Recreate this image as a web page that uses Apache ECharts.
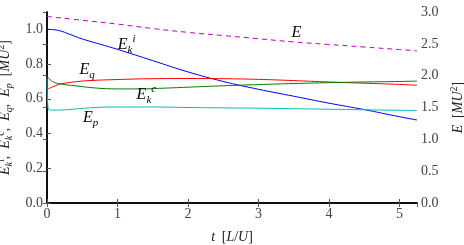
<!DOCTYPE html>
<html><head><meta charset="utf-8">
<script src="https://cdn.jsdelivr.net/npm/echarts@6/dist/echarts.min.js"></script>
<style>html,body{margin:0;padding:0;background:#fff}#c{width:464px;height:245px}</style>
</head><body><div id="c"></div>
<script>
// Time samples (t [L/U]) and series values
var tE   = [0, 0.5, 1, 1.5, 2, 2.5, 3, 3.5, 4, 4.5, 5, 5.25];
var E    = [2.93, 2.87, 2.81, 2.74, 2.68, 2.63, 2.58, 2.53, 2.49, 2.45, 2.41, 2.39];

var tEki = [0, 0.1, 0.2, 0.3, 0.5, 0.75, 1, 1.5, 2, 2.5, 3, 3.5, 4, 4.5, 5, 5.25];
var Eki  = [1.0, 0.998, 0.99, 0.975, 0.945, 0.915, 0.885, 0.82, 0.755, 0.70, 0.655, 0.615, 0.575, 0.538, 0.497, 0.478];

var tEq  = [0, 0.1, 0.2, 0.4, 0.6, 1, 1.5, 2, 2.5, 3, 3.5, 4, 4.5, 5, 5.25];
var Eq   = [0.655, 0.672, 0.686, 0.698, 0.705, 0.711, 0.716, 0.717, 0.716, 0.712, 0.705, 0.697, 0.69, 0.683, 0.678];

var tEkc = [0, 0.03, 0.1, 0.2, 0.4, 0.7, 1, 1.3, 1.7, 2, 2.5, 3, 3.5, 4, 4.5, 5, 5.25];
var Ekc  = [0.73, 0.715, 0.695, 0.685, 0.675, 0.662, 0.657, 0.657, 0.662, 0.667, 0.675, 0.682, 0.688, 0.693, 0.697, 0.70, 0.702];

var tEp  = [0, 0.02, 0.1, 0.3, 0.6, 1, 1.5, 2, 2.5, 3, 3.5, 4, 4.5, 5, 5.25];
var Ep   = [0.72, 0.54, 0.535, 0.538, 0.548, 0.553, 0.553, 0.55, 0.548, 0.546, 0.543, 0.54, 0.537, 0.534, 0.533];

var xTicks = [0, 1, 2, 3, 4, 5];
var leftTicks = ['0.0','0.2','0.4','0.6','0.8','1.0'];
var rightTicks = ['0.0','0.5','1.0','1.5','2.0','2.5','3.0'];

function pairs(t, v){ return t.map(function(x,i){ return [x, v[i]]; }); }

var serif = 'Liberation Serif';
var rich = {
  b: {fontFamily: serif, fontStyle: 'italic', fontSize: 16, color: '#000', lineHeight: 22, verticalAlign: 'middle'},
  sub: {fontFamily: serif, fontStyle: 'italic', fontSize: 11, color: '#000', lineHeight: 22, verticalAlign: 'bottom'},
  sup: {fontFamily: serif, fontStyle: 'italic', fontSize: 11, color: '#000', lineHeight: 22, verticalAlign: 'top'},
  n: {fontFamily: serif, fontSize: 14, color: '#222', lineHeight: 18},
  ni: {fontFamily: serif, fontStyle: 'italic', fontSize: 14, color: '#222', lineHeight: 18},
  ns: {fontFamily: serif, fontStyle: 'italic', fontSize: 10, color: '#222', lineHeight: 18, verticalAlign: 'bottom'},
  nu: {fontFamily: serif, fontSize: 10, color: '#222', lineHeight: 18, verticalAlign: 'top'},
  nx: {fontFamily: serif, fontSize: 14, color: '#222', lineHeight: 18},
  nxi: {fontFamily: serif, fontStyle: 'italic', fontSize: 14, color: '#222', lineHeight: 18}
};

function mp(text, x, y){
  return {symbol: 'circle', symbolSize: 1, silent: true, animation: false,
    itemStyle: {color: 'rgba(0,0,0,0)'},
    label: {show: true, position: 'inside', formatter: text, rich: rich, color: '#000'},
    data: [{name: 'lbl', coord: [x, y], value: 0}]};
}

var tickStyle = {show: true, inside: true, length: 4, lineStyle: {color: '#555', width: 1}};

var chart = echarts.init(document.getElementById('c'));
chart.setOption({
  animation: false,
  backgroundColor: '#fff',
  grid: {left: 47, right: 47, top: 12, bottom: 42, containLabel: false, outerBoundsMode: 'none'},
  xAxis: [{
    type: 'value', min: 0, max: 5.25, interval: 1, position: 'bottom',
    axisLine: {show: true, lineStyle: {color: '#000', width: 1.5}},
    axisTick: tickStyle, splitLine: {show: false},
    axisLabel: {show: true, showMaxLabel: false, margin: 4, color: '#444', fontFamily: serif, fontSize: 14,
      formatter: function(v){ return xTicks.indexOf(v) >= 0 ? String(v) : ''; }},
    name: '{nxi|t}  {nx|[}{nxi|L}{nx|/}{nxi|U}{nx|]}', nameLocation: 'middle', nameGap: 25,
    nameTextStyle: {rich: rich}
  }, {
    type: 'value', min: 0, max: 5.25, interval: 1, position: 'top',
    axisLine: {show: true, lineStyle: {color: '#000', width: 1.5}},
    axisTick: tickStyle, splitLine: {show: false}, axisLabel: {show: false}
  }],
  yAxis: [{
    type: 'value', min: 0, max: 1.1, interval: 0.2, position: 'left',
    axisLine: {show: true, lineStyle: {color: '#000', width: 1.5}},
    axisTick: tickStyle, splitLine: {show: false},
    axisLabel: {show: true, showMaxLabel: false, margin: 4, color: '#444', fontFamily: serif, fontSize: 14,
      formatter: function(v){ var s = v.toFixed(1); return leftTicks.indexOf(s) >= 0 ? s : ''; }},
    name: '{ni|E}{ns|k}{nu|i}{n|,  }{ni|E}{ns|k}{nu|c}{n|,  }{ni|E}{ns|q}{n|,  }{ni|E}{ns|p}{n|  [}{ni|MU}{nu|2}{n|]}',
    nameLocation: 'middle', nameGap: 25, nameRotate: 90,
    nameTextStyle: {rich: rich}
  }, {
    type: 'value', min: 0, max: 3.0, interval: 0.5, position: 'right',
    axisLine: {show: true, lineStyle: {color: '#000', width: 1.5}},
    axisTick: tickStyle, splitLine: {show: false},
    axisLabel: {show: true, margin: 4, color: '#444', fontFamily: serif, fontSize: 14,
      formatter: function(v){ var s = v.toFixed(1); return rightTicks.indexOf(s) >= 0 ? s : ''; }},
    name: '{nxi|E}  {nx|[}{nxi|MU}{nu|2}{nx|]}',
    nameLocation: 'middle', nameGap: 27, nameRotate: 90,
    nameTextStyle: {rich: rich}
  }],
  series: [
    {type: 'line', name: 'E', yAxisIndex: 1, data: pairs(tE, E), showSymbol: false, smooth: 0.4,
      lineStyle: {color: '#bf00bf', width: 1, type: [5, 4]},
      markPoint: mp('{b|E}', 3.54, 2.67)},
    {type: 'line', name: 'Eki', data: pairs(tEki, Eki), showSymbol: false, smooth: 0.4,
      lineStyle: {color: '#0000ff', width: 1},
      markPoint: mp('{b|E}{sub|k}{sup|i}', 1.13, 0.91)},
    {type: 'line', name: 'Eq', data: pairs(tEq, Eq), showSymbol: false, smooth: 0.4,
      lineStyle: {color: '#ff0000', width: 1},
      markPoint: mp('{b|E}{sub|q}', 0.57, 0.767)},
    {type: 'line', name: 'Ekc', data: pairs(tEkc, Ekc), showSymbol: false, smooth: 0.4,
      lineStyle: {color: '#008000', width: 1},
      markPoint: mp('{b|E}{sub|k}{sup|c}', 1.41, 0.622)},
    {type: 'line', name: 'Ep', data: pairs(tEp, Ep), showSymbol: false, smooth: 0.4,
      lineStyle: {color: '#00bfbf', width: 1},
      markPoint: mp('{b|E}{sub|p}', 0.62, 0.49)}
  ]
});
</script></body></html>
